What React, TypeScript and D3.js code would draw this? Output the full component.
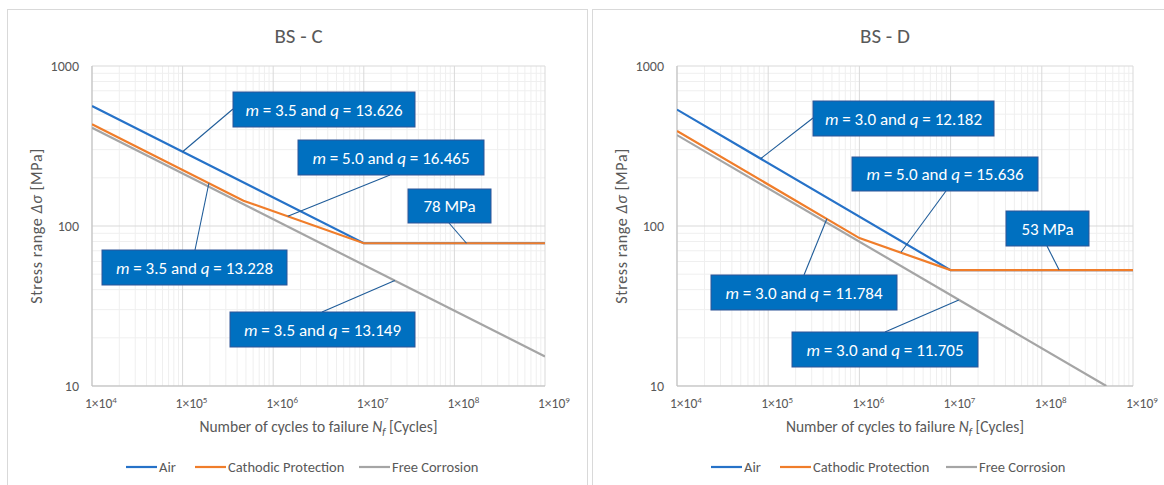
import React from 'react';
import * as d3 from 'd3';

// S-N curve break points: cycles N and stress range S [MPa]
const nTicks = [1e4, 1e5, 1e6, 1e7, 1e8, 1e9];
const nExp = ['4', '5', '6', '7', '8', '9'];
const sTicks = [10, 100, 1000];

const cAirN = [1e4, 1e7, 1e9];
const cAirS = [563, 78, 78];
const cCpN = [1e4, 4.7e5, 1e7, 1e9];
const cCpS = [433, 144, 78, 78];
const cFcN = [1e4, 1e9];
const cFcS = [411, 15.3];

const dAirN = [1e4, 1e7, 1e9];
const dAirS = [534, 53, 53];
const dCpN = [1e4, 1e6, 1e7, 1e9];
const dCpS = [393, 84, 53, 53];
const dFcN = [1e4, 5.1e8];
const dFcS = [370, 10];

const seriesNames = ['Air', 'Cathodic Protection', 'Free Corrosion'];
const seriesColors = ['#2672C8', '#F07D2A', '#A5A5A5'];
const drawOrder = [2, 0, 1];

const cLabels = ['3.5', '13.626', '5.0', '16.465', '78 MPa', '3.5', '13.228', '3.5', '13.149'];
const dLabels = ['3.0', '12.182', '5.0', '15.636', '53 MPa', '3.0', '11.784', '3.0', '11.705'];

// annotation anchors on the curves (N, S)
const cAnchors = [[1e5, 291], [1.45e6, 115], [1.36e8, 78], [1.95e5, 185], [2.2e7, 45.6]];
const dAnchors = [[8.3e4, 264], [2.86e6, 68.5], [1.55e8, 53], [4.4e5, 111], [1.23e7, 34.5]];

// box layout relative to the plot area: x, y, w, h, leader start x, y
const cBoxes = [
  [141, 26, 182, 35, 141, 43],
  [206, 74, 186, 35, 298, 109],
  [316, 123, 83, 34, 357, 157],
  [10, 184, 185, 35, 103, 184],
  [138, 246, 185, 35, 230, 246],
];
const dBoxes = [
  [136, 35, 181, 35, 136, 52],
  [175, 91, 186, 34, 269, 125],
  [329, 145, 83, 35, 370, 180],
  [34, 209, 186, 35, 127, 209],
  [115, 266, 186, 35, 208, 266],
];

const FONT = 'Carlito, Calibri, Lato, sans-serif';
const TXT = '#595959';

function Panel({ frameX, frameW, left, right, title, series, labels, anchors, boxes, legendX }) {
  const top = 66;
  const bottom = 386;
  const x = d3.scaleLog().domain([1e4, 1e9]).range([left, right]);
  const y = d3.scaleLog().domain([10, 1000]).range([bottom, top]);
  const line = d3.line<number[]>().x(d => x(d[0])).y(d => y(d[1]));

  const minorX: number[] = [];
  for (let e = 4; e < 9; e++) for (let k = 2; k <= 9; k++) minorX.push(k * 10 ** e);
  const minorY: number[] = [];
  for (let e = 1; e < 3; e++) for (let k = 2; k <= 9; k++) minorY.push(k * 10 ** e);
  const clipId = 'clip-' + title.replace(/\W/g, '');

  return (
    <g>
      <rect x={frameX + 0.5} y={9.5} width={frameW} height={500} fill="#fff" stroke="#D9D9D9" />
      <text x={(left + right) / 2 - 20} y={43} textAnchor="middle" fontSize={21} fill={TXT} fontFamily={FONT}>{title}</text>
      <defs>
        <clipPath id={clipId}><rect x={left} y={top} width={right - left} height={bottom - top} /></clipPath>
      </defs>
      {minorX.map((v, i) => (
        <line key={'mx' + i} x1={x(v)} x2={x(v)} y1={top} y2={bottom} stroke="#EFEFEF" />
      ))}
      {minorY.map((v, i) => (
        <line key={'my' + i} x1={left} x2={right} y1={y(v)} y2={y(v)} stroke="#EFEFEF" />
      ))}
      {nTicks.map((v, i) => (
        <line key={'gx' + i} x1={x(v)} x2={x(v)} y1={top} y2={bottom} stroke="#D9D9D9" />
      ))}
      {sTicks.map((v, i) => (
        <line key={'gy' + i} x1={left} x2={right} y1={y(v)} y2={y(v)} stroke="#D9D9D9" />
      ))}
      <line x1={left} x2={left} y1={top} y2={bottom} stroke="#BFBFBF" />
      <line x1={left} x2={right} y1={bottom} y2={bottom} stroke="#BFBFBF" />
      {sTicks.map((v, i) => (
        <text key={'ty' + i} x={left - 13} y={y(v) + 5} textAnchor="end" fontSize={14} fill={TXT} fontFamily={FONT}>{v}</text>
      ))}
      {nTicks.map((v, i) => (
        <text key={'tx' + i} x={x(v) - 7} y={408} fontSize={13.5} fill={TXT} fontFamily={FONT}>
          1×10<tspan dy={-5} fontSize={9}>{nExp[i]}</tspan>
        </text>
      ))}
      <text x={(left + right) / 2} y={432} textAnchor="middle" fontSize={15.5} fill={TXT} fontFamily={FONT}>
        Number of cycles to failure <tspan fontStyle="italic">N</tspan><tspan fontStyle="italic" fontSize={11} dy={3}>f</tspan><tspan dy={-3}> [Cycles]</tspan>
      </text>
      <text transform={`translate(${left - 50},${(top + bottom) / 2}) rotate(-90)`} textAnchor="middle" fontSize={16} letterSpacing={0.6} fill={TXT} fontFamily={FONT}>
        Stress range <tspan fontStyle="italic">Δσ</tspan> [MPa]
      </text>
      <g clipPath={`url(#${clipId})`}>
        {drawOrder.map(i => (
          <path key={'s' + i} d={line(series[i][0].map((n, j) => [n, series[i][1][j]]))!} fill="none"
            stroke={seriesColors[i]} strokeWidth={2.2} />
        ))}
      </g>
      {boxes.map((b, i) => {
        const a = anchors[i];
        const txt = i === 2 ? labels[4] : null;
        const m = i === 2 ? null : labels[[0, 2, 4, 5, 7][i]];
        const q = i === 2 ? null : labels[[1, 3, 4, 6, 8][i]];
        return (
          <g key={'b' + i}>
            <line x1={left + b[4]} y1={top + b[5]} x2={x(a[0])} y2={y(a[1])} stroke="#1F5C99" strokeWidth={1.1} />
            <rect x={left + b[0]} y={top + b[1]} width={b[2]} height={b[3]} fill="#0070C0" stroke="#2F5597" strokeWidth={1} />
            <text x={left + b[0] + b[2] / 2} y={top + b[1] + b[3] / 2 + 6} textAnchor="middle" fontSize={17} fill="#fff" fontFamily={FONT}>
              {txt !== null ? txt : (
                <>
                  <tspan fontStyle="italic">m</tspan> = {m} and <tspan fontStyle="italic">q</tspan> = {q}
                </>
              )}
            </text>
          </g>
        );
      })}
      {legendX.map((lx, i) => (
        <g key={'l' + i}>
          <line x1={lx} x2={lx + 31} y1={467} y2={467} stroke={seriesColors[i]} strokeWidth={2.2} />
          <text x={lx + 33} y={472} fontSize={14.5} fill={TXT} fontFamily={FONT}>{seriesNames[i]}</text>
        </g>
      ))}
    </g>
  );
}

export default function App() {
  // series in legend order: air, cathodic protection, free corrosion
  const cSeries = [[cAirN, cAirS], [cCpN, cCpS], [cFcN, cFcS]];
  const dSeries = [[dAirN, dAirS], [dCpN, dCpS], [dFcN, dFcS]];
  return (
    <svg width={1164} height={485} style={{ position: 'absolute', left: 0, top: 0, background: '#fff' }}>
      <Panel frameX={7} frameW={580} left={92} right={545} title="BS - C" series={cSeries}
        labels={cLabels} anchors={cAnchors} boxes={cBoxes} legendX={[126, 195, 359]} />
      <Panel frameX={592} frameW={580} left={677} right={1133} title="BS - D" series={dSeries}
        labels={dLabels} anchors={dAnchors} boxes={dBoxes} legendX={[711, 780, 946]} />
    </svg>
  );
}
